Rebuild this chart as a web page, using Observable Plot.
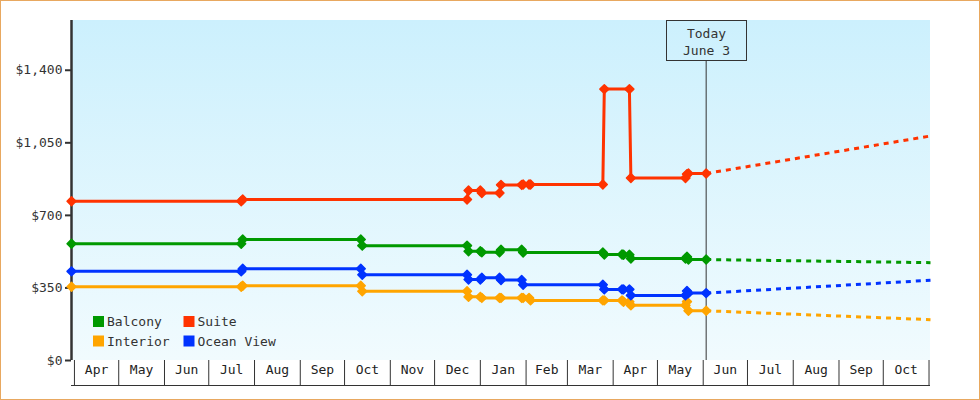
<!DOCTYPE html>
<html><head><meta charset="utf-8">
<script src="https://cdn.jsdelivr.net/npm/d3@7"></script>
<script src="https://cdn.jsdelivr.net/npm/@observablehq/plot@0.6"></script>
<style>
html,body{margin:0;padding:0;background:#fff;}
#wrap{position:relative;width:980px;height:400px;overflow:hidden;}
#border{position:absolute;left:0;top:0;width:980px;height:400px;box-sizing:border-box;border:1px solid #e8a860;pointer-events:none;}
</style></head><body>
<div id="wrap"><div id="chart"></div><div id="border"></div></div>
<script>
// ---- data ----
const seriesNames = ["Balcony", "Suite", "Interior", "Ocean View"];
const seriesColors = ["#009900", "#ff3300", "#ffa500", "#0033ff"];

const balcony = [
  ["2018-03-30", 563], ["2018-07-23", 563], ["2018-07-24", 584], ["2018-10-12", 584],
  ["2018-10-13", 554], ["2018-12-23", 554], ["2018-12-24", 527], ["2019-01-01", 527],
  ["2019-01-02", 522], ["2019-01-14", 522], ["2019-01-15", 534], ["2019-01-29", 534],
  ["2019-01-30", 521], ["2019-03-25", 521], ["2019-03-26", 511], ["2019-04-07", 511],
  ["2019-04-08", 510], ["2019-04-12", 510], ["2019-04-13", 492], ["2019-05-20", 492],
  ["2019-05-21", 500], ["2019-05-22", 487], ["2019-06-03", 487]
];
const suite = [
  ["2018-03-30", 768], ["2018-07-23", 768], ["2018-07-24", 777], ["2018-12-23", 777],
  ["2018-12-24", 820], ["2019-01-01", 820], ["2019-01-02", 808], ["2019-01-14", 808],
  ["2019-01-15", 847], ["2019-01-29", 847], ["2019-01-30", 849], ["2019-02-03", 849],
  ["2019-02-04", 849], ["2019-03-25", 849], ["2019-03-26", 1309], ["2019-04-12", 1309],
  ["2019-04-13", 880], ["2019-05-20", 880], ["2019-05-21", 899], ["2019-05-22", 902],
  ["2019-06-03", 902]
];
const interior = [
  ["2018-03-30", 356], ["2018-07-23", 356], ["2018-07-24", 361], ["2018-10-12", 361],
  ["2018-10-13", 334], ["2018-12-23", 334], ["2018-12-24", 307], ["2019-01-01", 307],
  ["2019-01-02", 302], ["2019-01-14", 302], ["2019-01-15", 302], ["2019-01-29", 302],
  ["2019-01-30", 302], ["2019-02-03", 302], ["2019-02-04", 290], ["2019-03-25", 290],
  ["2019-03-26", 290], ["2019-04-07", 290], ["2019-04-08", 283], ["2019-04-12", 283],
  ["2019-04-13", 266], ["2019-05-20", 266], ["2019-05-21", 284], ["2019-05-22", 240],
  ["2019-06-03", 240]
];
const oceanView = [
  ["2018-03-30", 430], ["2018-07-23", 430], ["2018-07-24", 443], ["2018-10-12", 443],
  ["2018-10-13", 414], ["2018-12-23", 414], ["2018-12-24", 391], ["2019-01-01", 391],
  ["2019-01-02", 399], ["2019-01-14", 399], ["2019-01-15", 388], ["2019-01-29", 388],
  ["2019-01-30", 365], ["2019-03-25", 365], ["2019-03-26", 343], ["2019-04-07", 343],
  ["2019-04-08", 343], ["2019-04-12", 343], ["2019-04-13", 314], ["2019-05-20", 314],
  ["2019-05-21", 335], ["2019-05-22", 325], ["2019-06-03", 325]
];

const balconyForecast = [["2019-06-03", 487], ["2019-11-02", 472]];
const suiteForecast = [["2019-06-03", 902], ["2019-11-02", 1083]];
const interiorForecast = [["2019-06-03", 240], ["2019-11-02", 197]];
const oceanViewForecast = [["2019-06-03", 325], ["2019-11-02", 387]];

const xDomain = ["2018-03-30", "2019-11-02"];
const yDomain = [0, 1640];
const yTicks = [0, 350, 700, 1050, 1400];
const monthStarts = [
  "2018-04-01", "2018-05-01", "2018-06-01", "2018-07-01", "2018-08-01", "2018-09-01",
  "2018-10-01", "2018-11-01", "2018-12-01", "2019-01-01", "2019-02-01", "2019-03-01",
  "2019-04-01", "2019-05-01", "2019-06-01", "2019-07-01", "2019-08-01", "2019-09-01",
  "2019-10-01", "2019-11-01"
];
const monthLabels = ["Apr", "May", "Jun", "Jul", "Aug", "Sep", "Oct", "Nov", "Dec", "Jan",
  "Feb", "Mar", "Apr", "May", "Jun", "Jul", "Aug", "Sep", "Oct"];
const today = "2019-06-03";
const todayText = ["Today", "June 3"];

// ---- build tables ----
const parse = s => new Date(s + "T00:00:00Z");
const histSets = [["Balcony", balcony], ["Suite", suite], ["Interior", interior], ["Ocean View", oceanView]];
const fcSets = [["Balcony", balconyForecast], ["Suite", suiteForecast], ["Interior", interiorForecast], ["Ocean View", oceanViewForecast]];
const history = histSets.flatMap(([name, arr]) => arr.map(([d, v]) => ({series: name, date: parse(d), price: v})));
const forecast = fcSets.flatMap(([name, arr]) => arr.map(([d, v]) => ({series: name, date: parse(d), price: v})));
const monthTickDates = monthStarts.map(parse);
const monthMids = monthLabels.map((label, i) => ({
  label,
  date: new Date((monthTickDates[i].getTime() + monthTickDates[i + 1].getTime()) / 2)
}));
const todayDate = parse(today);
const colorOf = Object.fromEntries(seriesNames.map((n, i) => [n, seriesColors[i]]));

const FONT = "'DejaVu Sans Mono', monospace";

function background(index, scales, values, dims) {
  const {width, height, marginLeft, marginRight, marginTop, marginBottom} = dims;
  const g = d3.create("svg:g");
  const lg = g.append("defs").append("linearGradient")
    .attr("id", "bggrad").attr("gradientUnits", "userSpaceOnUse")
    .attr("x1", 0).attr("x2", 0).attr("y1", marginTop).attr("y2", height - marginBottom);
  lg.append("stop").attr("offset", "0%").attr("stop-color", "#ccf0fd");
  lg.append("stop").attr("offset", "100%").attr("stop-color", "#f1fbfe");
  g.append("rect").attr("x", marginLeft).attr("y", marginTop)
    .attr("width", width - marginLeft - marginRight).attr("height", height - marginTop - marginBottom)
    .attr("fill", "url(#bggrad)");
  return g.node();
}

function todayBox(index, scales, values, dims) {
  const cx = Math.round(scales.x(todayDate)) + 0.5;
  const top = dims.marginTop + 0.5;
  const g = d3.create("svg:g");
  g.append("rect").attr("x", cx - 40).attr("y", top).attr("width", 80).attr("height", 40)
    .attr("fill", "url(#bggrad)").attr("stroke", "#333").attr("stroke-width", 1);
  todayText.forEach((t, i) => {
    g.append("text").attr("x", cx).attr("y", top + 12.5 + i * 17.5)
      .attr("text-anchor", "middle").attr("dominant-baseline", "central")
      .attr("font-family", FONT).attr("font-size", 13).attr("fill", "#333").text(t);
  });
  return g.node();
}

function legend(index, scales, values, dims) {
  const {height, marginLeft, marginBottom} = dims;
  const bottom = height - marginBottom;
  const order = [["Balcony", "Suite"], ["Interior", "Ocean View"]];
  const g = d3.create("svg:g");
  order.forEach((row, r) => {
    row.forEach((name, c) => {
      const x = marginLeft + 22 + c * 90.5;
      const y = bottom - 44 + r * 19.5;
      g.append("rect").attr("x", x).attr("y", y).attr("width", 11).attr("height", 11).attr("fill", colorOf[name]);
      g.append("text").attr("x", x + 14).attr("y", y + 5.5).attr("dominant-baseline", "central")
        .attr("text-anchor", "start")
        .attr("font-family", FONT).attr("font-size", 13).attr("fill", "#333").text(name);
    });
  });
  return g.node();
}

const chart = Plot.plot({
  width: 980,
  height: 400,
  marginLeft: 71,
  marginRight: 50,
  marginTop: 20,
  marginBottom: 40,
  style: {fontFamily: FONT, fontSize: "13px", color: "#333", background: "transparent"},
  x: {type: "utc", domain: xDomain.map(parse), label: null},
  y: {domain: yDomain, label: null},
  color: {domain: seriesNames, range: seriesColors},
  marks: [
    background,
    Plot.axisY({ticks: yTicks, tickFormat: d => "$" + d3.format(",")(d), tickSize: 6, tickPadding: 3,
      strokeWidth: 2, label: null, fontSize: 13}),
    Plot.axisX({ticks: monthTickDates, tickSize: 25, tickFormat: () => "", label: null, strokeWidth: 1}),
    Plot.ruleY([0], {dy: 25, stroke: "#333", strokeWidth: 1}),
    Plot.text(monthMids, {x: "date", text: "label", frameAnchor: "bottom", dy: 13, fill: "#222", fontSize: 13}),
    Plot.ruleX([xDomain[0]].map(parse), {stroke: "#333", strokeWidth: 2.5}),
    Plot.ruleX([todayDate], {stroke: "#333", strokeWidth: 1}),
    todayBox,
    Plot.line(forecast, {x: "date", y: "price", z: "series", stroke: "series", strokeWidth: 3,
      strokeDasharray: "5,5", strokeLinecap: "butt"}),
    Plot.line(history, {x: "date", y: "price", z: "series", stroke: "series", strokeWidth: 3}),
    Plot.dot(history, {x: "date", y: "price", fill: "series", stroke: "series", symbol: "diamond2",
      r: 4, strokeWidth: 1.5, strokeLinejoin: "round"}),
    legend
  ]
});
document.getElementById("chart").appendChild(chart);
</script>
</body></html>
